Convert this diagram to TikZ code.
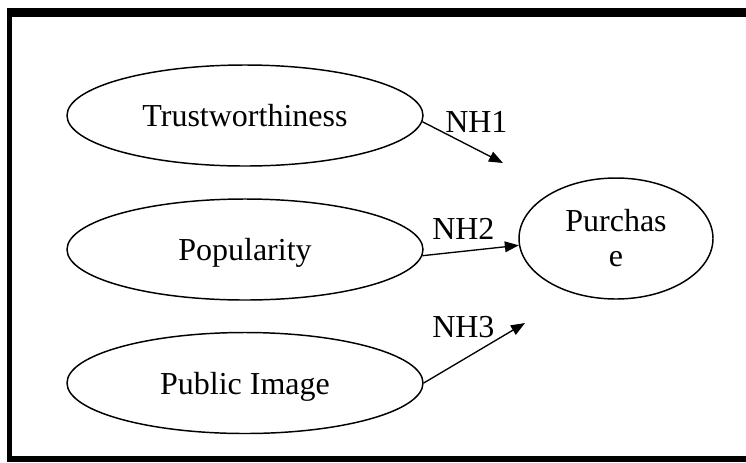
\documentclass[tikz,border=0pt]{standalone}
\usepackage{fontspec}
\setmainfont{Liberation Serif}
\usetikzlibrary{shapes.geometric,arrows.meta}
\begin{document}
\begin{tikzpicture}[x=0.75pt,y=-0.75pt,
  every node/.style={font=\fontsize{24}{26}\selectfont},
  oval/.style={draw,ellipse,line width=1.1pt,inner sep=0pt,minimum width=267pt,minimum height=75.75pt,text height=18pt,text depth=1pt},
  lbl/.style={anchor=base west,inner sep=0pt},
  arr/.style={line width=1pt,-{Triangle[length=10.5pt,width=8pt]}},
  frame/.style={fill=black,draw=none}]
\useasboundingbox (0,0) rectangle (746,462);
\fill[frame] (7,8) rectangle (746,17);
\fill[frame] (7,8) rectangle (12,462);
\fill[frame] (7,456) rectangle (746,462);
\node[oval] (trust) at (245,115.5) {Trustworthiness};
\node[oval] (pop) at (245,249.5) {Popularity};
\node[oval] (pub) at (245,383) {Public Image};
\node[draw,ellipse,line width=1.1pt,inner sep=0pt,minimum width=145.5pt,minimum height=90.75pt,align=center,font=\fontsize{24}{26.3}\selectfont] (purch) at (616,238.5) {Purchas\\e};
\coordinate (t1) at (503,163);
\coordinate (t3) at (525,323);
\draw[arr] (trust.-2) -- (t1);
\draw[arr] (pop.-2) -- (purch.184);
\draw[arr] (pub.east) -- (t3);
\node[lbl] (nh1) at (445,132) {NH1};
\node[lbl] (nh2) at (432,239) {NH2};
\node[lbl] (nh3) at (432,337) {NH3};
\end{tikzpicture}
\end{document}
